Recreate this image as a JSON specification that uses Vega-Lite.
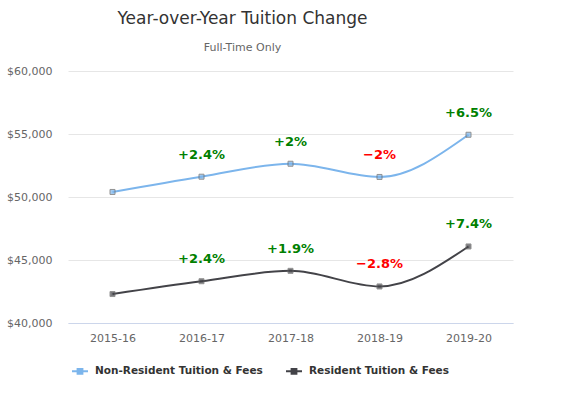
{
  "$schema": "https://vega.github.io/schema/vega-lite/v6.json",
  "autosize": {"type": "none"},
  "width": 445,
  "height": 252,
  "padding": {"left": 68, "top": 71, "right": 50, "bottom": 72},
  "background": "white",
  "config": {
    "font": "DejaVu Sans",
    "view": {"stroke": null}
  },
  "title": {
    "text": "Year-over-Year Tuition Change",
    "subtitle": "Full-Time Only",
    "fontSize": 17,
    "fontWeight": "normal",
    "color": "#333333",
    "subtitleFontSize": 11,
    "subtitleColor": "#666666",
    "subtitlePadding": 14,
    "anchor": "middle",
    "dx": -48,
    "offset": 11
  },
  "data": {
    "values": [
      {"year": "2015-16", "series": "Non-Resident Tuition & Fees", "tuition": 50400, "pct": null, "label": ""},
      {"year": "2016-17", "series": "Non-Resident Tuition & Fees", "tuition": 51610, "pct": 2.4, "label": "+2.4%"},
      {"year": "2017-18", "series": "Non-Resident Tuition & Fees", "tuition": 52640, "pct": 2, "label": "+2%"},
      {"year": "2018-19", "series": "Non-Resident Tuition & Fees", "tuition": 51590, "pct": -2, "label": "−2%"},
      {"year": "2019-20", "series": "Non-Resident Tuition & Fees", "tuition": 54940, "pct": 6.5, "label": "+6.5%"},
      {"year": "2015-16", "series": "Resident Tuition & Fees", "tuition": 42300, "pct": null, "label": ""},
      {"year": "2016-17", "series": "Resident Tuition & Fees", "tuition": 43315, "pct": 2.4, "label": "+2.4%"},
      {"year": "2017-18", "series": "Resident Tuition & Fees", "tuition": 44140, "pct": 1.9, "label": "+1.9%"},
      {"year": "2018-19", "series": "Resident Tuition & Fees", "tuition": 42900, "pct": -2.8, "label": "−2.8%"},
      {"year": "2019-20", "series": "Resident Tuition & Fees", "tuition": 46075, "pct": 7.4, "label": "+7.4%"}
    ]
  },
  "encoding": {
    "x": {
      "field": "year",
      "type": "ordinal",
      "scale": {"type": "point", "padding": 0.5},
      "axis": {
        "title": null,
        "labelAngle": 0,
        "ticks": false,
        "domainColor": "#ccd6eb",
        "labelColor": "#666666",
        "labelFontSize": 11,
        "labelPadding": 9,
        "grid": false
      }
    },
    "y": {
      "field": "tuition",
      "type": "quantitative",
      "scale": {"domain": [40000, 60000], "nice": false, "zero": false},
      "axis": {
        "title": null,
        "values": [40000, 45000, 50000, 55000, 60000],
        "format": "$,.0f",
        "ticks": false,
        "domain": false,
        "gridColor": "#e6e6e6",
        "labelColor": "#666666",
        "labelFontSize": 11,
        "labelPadding": 16
      }
    }
  },
  "layer": [
    {
      "mark": {"type": "line", "interpolate": "monotone", "strokeWidth": 2},
      "encoding": {
        "color": {
          "field": "series",
          "type": "nominal",
          "scale": {"domain": ["Non-Resident Tuition & Fees", "Resident Tuition & Fees"], "range": ["#7cb5ec", "#434348"]},
          "legend": {
            "title": null,
            "orient": "none",
            "direction": "horizontal",
            "legendX": 3,
            "legendY": 291,
            "symbolType": "M-1,0H1M-0.3,-0.3H0.3V0.3H-0.3Z",
            "symbolSize": 256,
            "symbolStrokeWidth": 2,
            "labelFontSize": 10.5,
            "labelFontWeight": "bold",
            "labelColor": "#333333",
            "labelOffset": 6,
            "columnPadding": 19,
            "labelLimit": 300,
            "encode": {"symbols": {"update": {"fill": {"scale": "color", "field": "value"}}}}
          }
        }
      }
    },
    {
      "mark": {"type": "point", "shape": "square", "filled": true, "size": 25, "stroke": "#666666", "strokeWidth": 1},
      "encoding": {
        "fill": {"field": "series", "type": "nominal", "scale": {"domain": ["Non-Resident Tuition & Fees", "Resident Tuition & Fees"], "range": ["#7cb5ec", "#434348"]}, "legend": null}
      }
    },
    {
      "transform": [{"filter": "datum.label != ''"}],
      "mark": {"type": "text", "dy": -22, "fontSize": 13, "fontWeight": "bold"},
      "encoding": {
        "text": {"field": "label"},
        "color": {"condition": {"test": "datum.pct < 0", "value": "#ff0000"}, "value": "#008000"}
      }
    }
  ]
}
